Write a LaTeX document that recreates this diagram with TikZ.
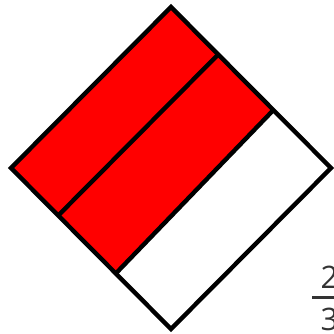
\documentclass[tikz,border=0pt]{standalone}
\usepackage{fontspec}
\setmainfont{Open Sans}
\usetikzlibrary{calc}
\definecolor{fracgray}{HTML}{333333}
\begin{document}
\begin{tikzpicture}[x=1pt,y=-1pt,
  edge/.style={draw=black,line width=4.4pt,line join=miter},
  digit/.style={text=fracgray,font=\fontsize{31}{31}\selectfont,inner sep=0pt}]
\useasboundingbox (0,0) rectangle (334,333);
\coordinate (T) at (171,7);
\coordinate (L) at (11,168);
\coordinate (R) at (331,168);
\coordinate (B) at (171,329);
\coordinate (A1) at ($(T)!0.295!(R)$);
\coordinate (A2) at ($(T)!0.64!(R)$);
\coordinate (C1) at ($(L)!0.295!(B)$);
\coordinate (C2) at ($(L)!0.655!(B)$);
\fill[red] (T) -- (A2) -- (C2) -- (L) -- cycle;
\draw[edge] (T) -- (R) -- (B) -- (L) -- cycle;
\draw[edge] (A1) -- (C1);
\draw[edge] (A2) -- (C2);
\node[digit] (n2) at (329.5,277) {2};
\node[digit] (n3) at (329.5,319) {3};
\draw[fracgray,line width=3pt] (312,297) -- (347,297);
\end{tikzpicture}
\end{document}
